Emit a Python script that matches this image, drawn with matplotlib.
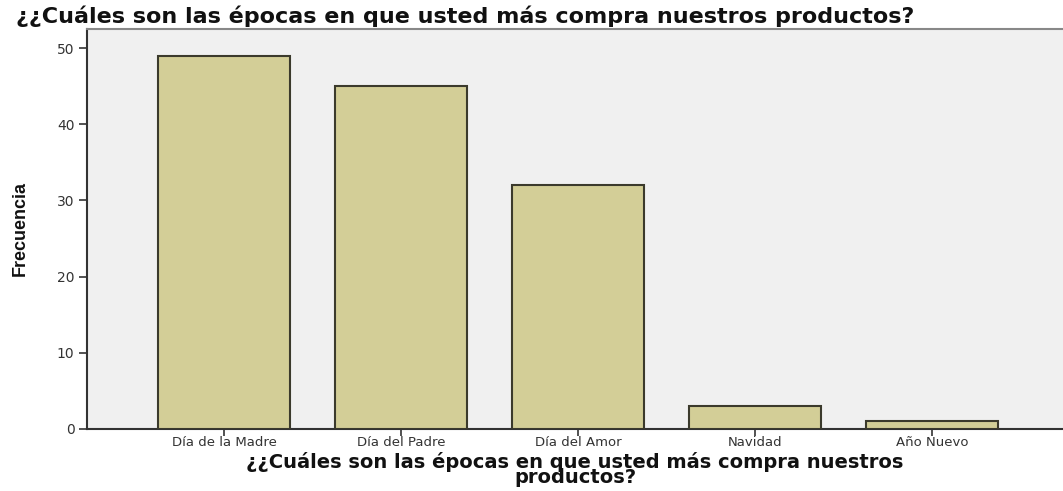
import matplotlib
matplotlib.use("Agg")
import matplotlib.pyplot as plt

categories = ["Día de la Madre", "Día del Padre", "Día del Amor", "Navidad", "Año Nuevo"]
frecuencia = [49, 45, 32, 3, 1]
yticks = [0, 10, 20, 30, 40, 50]
title = "¿¿Cuáles son las épocas en que usted más compra nuestros productos?"
xlabel = "¿¿Cuáles son las épocas en que usted más compra nuestros\nproductos?"
ylabel = "Frecuencia"

fig = plt.figure(figsize=(10.63, 4.91), dpi=100)
ax = fig.add_axes([87/1063, 1-429/491, (1063-87)/1063, 400/491])
ax.set_facecolor("#f0f0f0")
x = list(range(len(categories)))
ax.bar(x, frecuencia, width=0.75, color="#d3ce97", edgecolor="#3b3a2c", linewidth=1.5, zorder=3)
ax.set_xlim(-0.774, 4.74)
ax.set_ylim(0, 52.5)
ax.set_yticks(yticks)
ax.set_xticks(x)
ax.set_xticklabels(categories, fontsize=9.5, color="#222222")
ax.tick_params(axis="y", labelsize=10, length=6, width=1.2, colors="#333333", pad=3)
ax.tick_params(axis="x", length=5, width=1.2, colors="#333333", pad=0)
for s in ["left", "bottom"]:
    ax.spines[s].set_color("#333333")
    ax.spines[s].set_linewidth(1.5)
ax.spines["top"].set_color("#888888")
ax.spines["top"].set_linewidth(1.5)
ax.spines["right"].set_visible(False)

fig.text(16/1063, 1-16/491, title, fontsize=16, fontweight="bold", ha="left", va="center", color="#111111")
ax.set_xlabel(xlabel, fontsize=14, fontweight="bold", labelpad=2, linespacing=0.72, color="#111111")
ax.set_ylabel(ylabel, fontsize=13, fontweight="bold", family=["Liberation Sans", "DejaVu Sans"], labelpad=20, color="#111111")

fig.savefig("out.png", dpi=100)
